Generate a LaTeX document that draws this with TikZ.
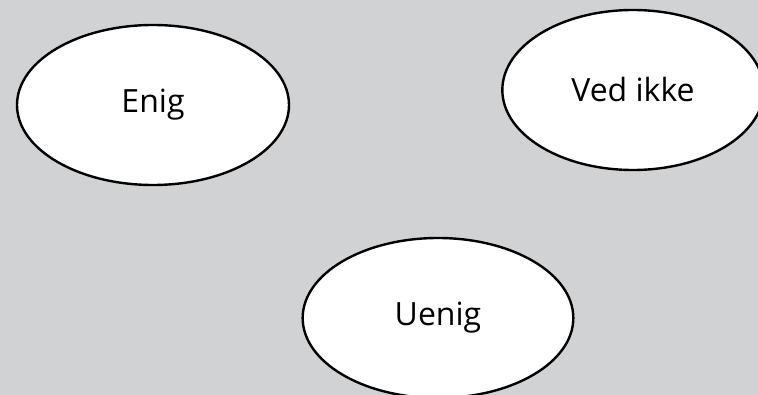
\documentclass[tikz,border=0pt]{standalone}
\usepackage{fontspec}
\setmainfont{Open Sans}
\usetikzlibrary{shapes.geometric}
\definecolor{bggray}{RGB}{209,210,212}

\tikzset{every picture/.style={line width=0.75pt}}

\begin{document}
\begin{tikzpicture}[x=0.75pt,y=0.75pt,yscale=-1,xscale=1,
  answer/.style={ellipse,draw=black,fill=white,line width=1.8pt,inner sep=0pt,font=\fontsize{24}{28}\selectfont}]
%set diagram left start at 0, and has height of 395
\fill [bggray] (0,0) rectangle (758,395) ;
\useasboundingbox (0,0) rectangle (758,395) ;
\clip (0,0) rectangle (758,395) ;

%Shape: Ellipse [id:enig]
\node [answer,minimum width=204pt,minimum height=120pt] (enig) at (153,105) {Enig};
%Shape: Ellipse [id:vedikke]
\node [answer,minimum width=196pt,minimum height=120pt] (vedikke) at (633,90) {Ved ikke};
%Shape: Ellipse [id:uenig]
\node [answer,minimum width=203pt,minimum height=120pt] (uenig) at (438,318) {Uenig};

\end{tikzpicture}
\end{document}
